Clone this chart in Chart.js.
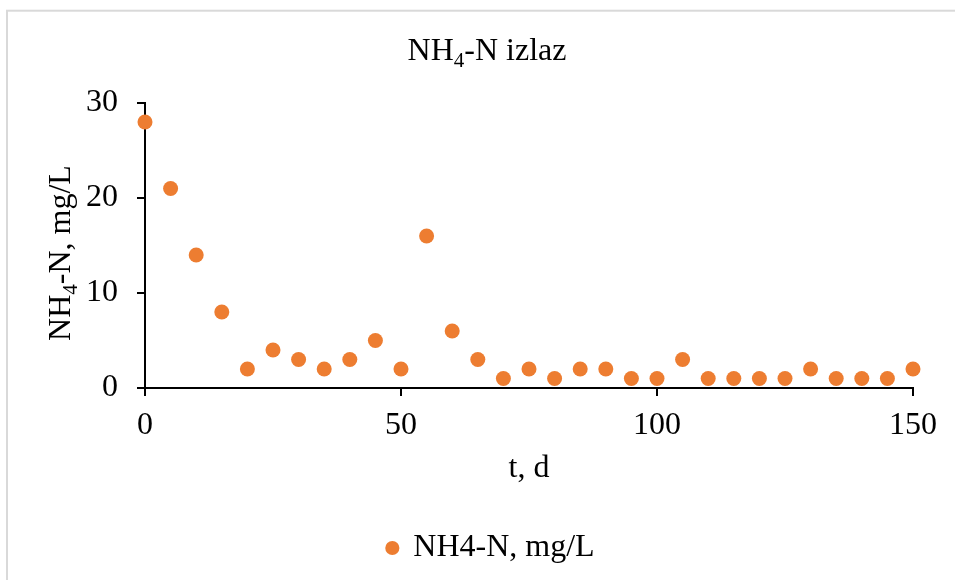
<!DOCTYPE html>
<html>
<head>
<meta charset="utf-8">
<script src="https://cdn.jsdelivr.net/npm/chart.js@4/dist/chart.umd.min.js"></script>
<style>
  html, body { margin: 0; padding: 0; background: #fff; }
  #wrap { width: 955px; height: 580px; position: relative; }
</style>
</head>
<body>
<div id="wrap"><canvas id="myChart" width="955" height="580"></canvas></div>
<script>
// t, d
const days = [0, 5, 10, 15, 20, 25, 30, 35, 40, 45, 50, 55, 60, 65, 70, 75,
	80, 85, 90, 95, 100, 105, 110, 115, 120, 125, 130, 135, 140, 145, 150];
// NH4-N, mg/L
const nh4 = [28, 21, 14, 8, 2, 4, 3, 2, 3, 5, 2, 16, 6, 3, 1, 2,
	1, 2, 2, 1, 1, 3, 1, 1, 1, 1, 2, 1, 1, 1, 2];
const xTicks = [0, 50, 100, 150];
const yTicks = [0, 10, 20, 30];

const serif = "'Liberation Serif', 'Times New Roman', serif";
const orange = "#ED7D31";
const fs = 32;

// dibuja texto con subindice: partes [texto, esSub]
function drawSubText(ctx, parts, size, cx, baseline) {
	const subSize = Math.round(size * 0.66);
	let total = 0;
	parts.forEach(p => {
		ctx.font = `${p[1] ? subSize : size}px ${serif}`;
		total += ctx.measureText(p[0]).width;
	});
	let x = cx - total / 2;
	ctx.textAlign = "left";
	ctx.textBaseline = "alphabetic";
	parts.forEach(p => {
		ctx.font = `${p[1] ? subSize : size}px ${serif}`;
		ctx.fillText(p[0], x, baseline + (p[1] ? size * 0.22 : 0));
		x += ctx.measureText(p[0]).width;
	});
}

const textPlugin = {
	id: "textPlugin",
	beforeDraw(chart) {
		const ctx = chart.ctx;
		ctx.save();
		ctx.fillStyle = "#fff";
		ctx.fillRect(0, 0, chart.width, chart.height);
		ctx.strokeStyle = "#d9d9d9";
		ctx.lineWidth = 2;
		ctx.strokeRect(7, 10.7, 1000, 1000);
		ctx.restore();
	},
	afterDraw(chart) {
		const ctx = chart.ctx;
		const area = chart.chartArea;
		ctx.save();
		ctx.fillStyle = "#000";
		// titulo
		drawSubText(ctx, [["NH", false], ["4", true], ["-N izlaz", false]], fs, 487, 60);
		// eje x
		ctx.font = `${fs}px ${serif}`;
		ctx.textAlign = "center";
		ctx.textBaseline = "alphabetic";
		ctx.fillText("t, d", (area.left + area.right) / 2, 477);
		// eje y
		ctx.translate(70, 253);
		ctx.rotate(-Math.PI / 2);
		drawSubText(ctx, [["NH", false], ["4", true], ["-N, mg/L", false]], fs, 0, 0);
		ctx.restore();
	}
};

const config = {
	type: "scatter",
	data: {
		datasets: [{
			label: "NH4-N, mg/L",
			data: days.map((d, i) => ({ x: d, y: nh4[i] })),
			backgroundColor: orange,
			borderColor: orange,
			borderWidth: 0,
			pointRadius: 7.5,
			pointHoverRadius: 7.5,
			pointStyle: "circle",
			clip: false
		}]
	},
	options: {
		responsive: false,
		animation: false,
		layout: { padding: { left: 69, right: 42, top: 103, bottom: 6 } },
		plugins: {
			title: { display: false },
			tooltip: { enabled: false },
			legend: {
				position: "bottom",
				labels: {
					usePointStyle: true,
					boxWidth: 10,
					boxHeight: 10,
					padding: 10,
					color: "#000",
					font: { family: serif, size: fs }
				}
			}
		},
		scales: {
			x: {
				type: "linear",
				min: 0,
				max: 150,
				afterBuildTicks: s => { s.ticks = xTicks.map(v => ({ value: v })); },
				afterFit: s => { s.height = 134; },
				border: { color: "#000", width: 2 },
				grid: { drawOnChartArea: false, tickLength: 8, color: "#000", lineWidth: 2 },
				ticks: { color: "#000", padding: 10, font: { family: serif, size: fs } }
			},
			y: {
				min: 0,
				max: 30,
				afterBuildTicks: s => { s.ticks = yTicks.map(v => ({ value: v })); },
				afterFit: s => { s.width = 76; },
				border: { color: "#000", width: 2 },
				grid: { drawOnChartArea: false, tickLength: 8, color: "#000", lineWidth: 2 },
				ticks: { color: "#000", padding: 19, font: { family: serif, size: fs } }
			}
		}
	},
	plugins: [textPlugin]
};

new Chart(document.getElementById("myChart"), config);
</script>
</body>
</html>
